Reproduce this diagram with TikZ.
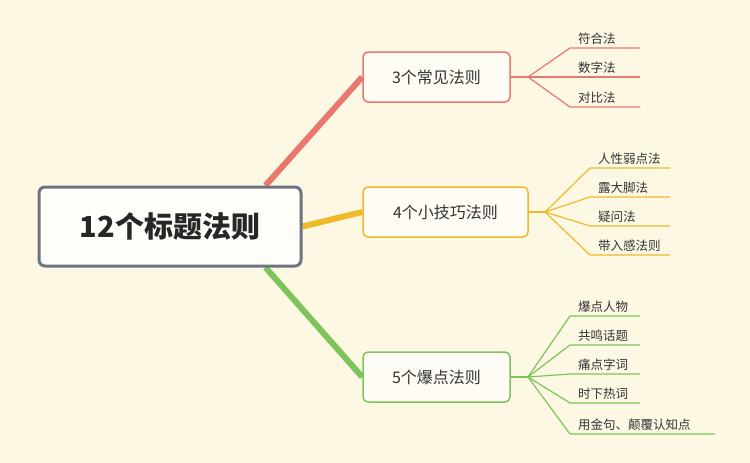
\documentclass[tikz,border=0pt]{standalone}
\usepackage{fontspec}
\newfontfamily\cjk{Noto Sans CJK SC}
\usetikzlibrary{backgrounds}
\definecolor{bg}{HTML}{FDF8E4}
\definecolor{redb}{HTML}{E8776E}
\definecolor{orab}{HTML}{F0B92A}
\definecolor{greb}{HTML}{7DC45A}
\definecolor{rootb}{HTML}{6E7382}
\tikzset{
  branchbox/.style={draw=#1,line width=1.5pt,rounded corners=5pt,fill=white!60!bg,
    minimum height=50pt,font=\cjk\fontsize{16}{19}\selectfont,text=black!80},
  leaf/.style={anchor=south west,inner xsep=8pt,inner ysep=3pt,
    font=\cjk\fontsize{12.5}{15}\selectfont,text=black!80},
}
\begin{document}
\begin{tikzpicture}[x=1pt,y=-1pt]
\useasboundingbox (0,0) rectangle (750,463);

\node[draw=rootb,line width=3pt,rounded corners=6pt,fill=white!70!bg,
  minimum width=262pt,minimum height=79pt,font=\cjk\fontsize{29}{34}\selectfont\bfseries,
  text=black!85] (root) at (170,226.5) {12个标题法则};

\node[branchbox=redb,minimum width=147pt] (b1) at (436.5,77) {3个常见法则};
\node[branchbox=orab,minimum width=165pt] (b2) at (445.5,212) {4个小技巧法则};
\node[branchbox=greb,minimum width=147pt] (b3) at (436.5,377) {5个爆点法则};

\begin{pgfonlayer}{background}
\fill[bg] (0,0) rectangle (750,463);
\draw[redb,line width=6pt] ([xshift=-37pt]root.north east) -- (b1.west);
\draw[orab,line width=6pt] (root.east) -- (b2.west);
\draw[greb,line width=6pt] ([xshift=-37pt]root.south east) -- (b3.west);
\end{pgfonlayer}

% leaves of the first branch
\coordinate (h1) at (528,77);
\draw[redb,line width=1.2pt] (b1.east) -- (h1);
\foreach \t/\y [count=\i] in {符合法/48,数字法/77,对比法/107}{
  \node[leaf] (l1\i) at (570,\y) {\t};
  \draw[redb,line width=1.2pt] (h1) -- (l1\i.south west) -- ++(70,0);
}

% leaves of the second branch
\coordinate (h2) at (545,212);
\draw[orab,line width=1.2pt] (b2.east) -- (h2);
\foreach \t/\y [count=\i] in {人性弱点法/168,露大脚法/197,疑问法/226,带入感法则/255}{
  \node[leaf] (l2\i) at (590,\y) {\t};
  \draw[orab,line width=1.2pt] (h2) -- (l2\i.south west) -- ++(80,0);
}

% leaves of the third branch
\coordinate (h3) at (528,377);
\draw[greb,line width=1.2pt] (b3.east) -- (h3);
\foreach \t/\y/\w [count=\i] in {爆点人物/316/70,共鸣话题/345/70,痛点字词/374/70,时下热词/403/70,用金句、颠覆认知点/434/145}{
  \node[leaf] (l3\i) at (570,\y) {\t};
  \draw[greb,line width=1.2pt] (h3) -- (l3\i.south west) -- ++(\w,0);
}
\end{tikzpicture}
\end{document}
